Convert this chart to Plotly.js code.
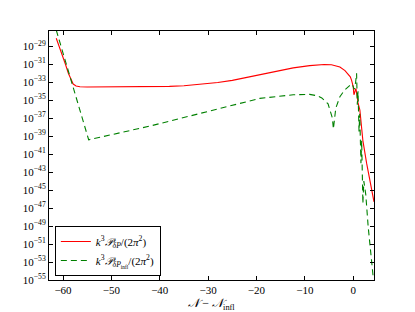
<!DOCTYPE html>
<html><head><meta charset="utf-8">
<script src="https://cdn.plot.ly/plotly-3.0.1.min.js"></script>
<style>body{margin:0;background:#fff}#c{width:415px;height:312px}</style>
</head><body><div id="c"></div>
<script>
// Red: k^3 P_dP/(2pi^2)
const redX = [-61.4,-60.5,-59.5,-58.9,-58.3,-57.9,-57.3,-56.5,-55,-50,-45,-42,-38,-35,-32,-28,-25,-21.4,-18,-15.2,-12.4,-9,-6,-4.5,-2.75,-1.7,-1.2,-0.6,-0.33,0.0,0.15,0.35,0.56,0.8,1.0,1.38,2.0,2.77,3.5,4.3];
const redY = [7.9e-29,4.0e-30,1.0e-31,1.0e-32,1.6e-33,6.3e-34,3.8e-34,3.2e-34,2.95e-34,2.95e-34,3.0e-34,3.2e-34,3.5e-34,4.0e-34,5.5e-34,9.3e-34,1.6e-33,4.0e-33,8.9e-33,1.8e-32,4.0e-32,7.1e-32,9.5e-32,8.9e-32,5.0e-32,2.0e-32,1.0e-32,4.0e-33,1.6e-33,3.2e-34,4.0e-35,1.0e-34,2.0e-34,3.2e-35,5.0e-36,7.9e-37,3.2e-40,1.0e-42,1.0e-44,5.0e-47];
// Green dashed: k^3 P_dP_infl/(2pi^2)
const grnX = [-61.4,-54.7,-42.1,-30,-19.3,-12.4,-9,-7.5,-6.5,-5.2,-4.6,-4.3,-4.1,-3.9,-3.6,-2.75,-1.8,-0.8,-0.2,0.2,0.5,0.7,0.85,1.0,1.2,1.35,1.6,1.75,2.0,2.2,2.6,3.1,3.6,4.1];
const grnY = [6.3e-28,4.0e-40,1.3e-38,6.3e-37,1.6e-35,4.0e-35,4.5e-35,3.2e-35,1.8e-35,4.0e-36,5.0e-37,1.0e-37,6.3e-39,1.0e-37,1.3e-36,2.5e-35,1.3e-34,4.0e-34,6.3e-34,1.6e-34,1.0e-33,1.0e-32,3.2e-36,1.0e-34,3.2e-39,3.2e-37,1.0e-42,3.2e-40,3.2e-47,1.0e-44,3.2e-46,7.9e-50,1.0e-52,3.2e-55];
const xTicks = [-60,-50,-40,-30,-20,-10,0];
const xTickText = ['\u221260','\u221250','\u221240','\u221230','\u221220','\u221210','0'];
const yExps = [-55,-53,-51,-49,-47,-45,-43,-41,-39,-37,-35,-33,-31,-29];
const yTickVals = yExps.map(e => Number('1e' + e));
const yTickText = yExps.map(e => '10<sup>\u2212' + Math.abs(e) + '</sup>');

const F = 'Liberation Serif, DejaVu Serif, serif';
const data = [
  {x: redX, y: redY, mode: 'lines', line: {color: '#ff0000', width: 1.1},
   name: '<i>k</i><sup>3</sup><i>\uD835\uDCAB</i><sub><i>\u03B4P</i></sub>/(2<i>\u03C0</i><sup>2</sup>)'},
  {x: grnX, y: grnY, mode: 'lines', line: {color: '#008000', width: 1.1, dash: '6px,4px'},
   name: '<i>k</i><sup>3</sup><i>\uD835\uDCAB</i><sub><i>\u03B4P</i><sub>infl</sub></sub>/(2<i>\u03C0</i><sup>2</sup>)'}
];
const layout = {
  width: 415, height: 312,
  margin: {l: 49, r: 41, t: 31, b: 32},
  paper_bgcolor: '#fff', plot_bgcolor: '#fff',
  font: {family: F, size: 11, color: '#000'},
  showlegend: true,
  legend: {x: 0.018, y: 0.016, xanchor: 'left', yanchor: 'bottom',
    bordercolor: '#000', borderwidth: 1, bgcolor: '#fff', itemwidth: 30,
    font: {family: F, size: 11, color: '#000'}, tracegroupgap: 2},
  xaxis: {range: [-62.9, 4.3], tickvals: xTicks, ticktext: xTickText,
    ticks: 'inside', ticklen: 4, tickcolor: '#000', showline: true, linecolor: '#000', linewidth: 1,
    mirror: 'ticks', showgrid: false, zeroline: false, tickfont: {color: '#000'},
    title: {text: '<i>\uD835\uDCA9</i> \u2212 <i>\uD835\uDCA9</i><sub>infl</sub>', font: {family: F, size: 12, color: '#000'}, standoff: 6}},
  yaxis: {type: 'log', range: [-55, -27.3], tickvals: yTickVals, ticktext: yTickText,
    ticks: 'inside', ticklen: 4, tickcolor: '#000', showline: true, linecolor: '#000', linewidth: 1,
    mirror: 'ticks', showgrid: false, zeroline: false, tickfont: {color: '#000'}}
};
Plotly.newPlot('c', data, layout, {displayModeBar: false, staticPlot: true});
</script></body></html>
